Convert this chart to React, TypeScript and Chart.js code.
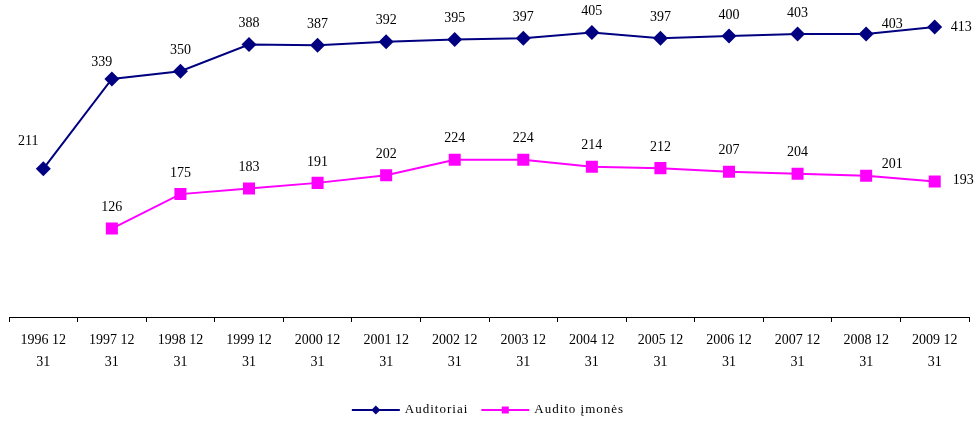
import React, { useEffect, useRef } from "react";
import { Chart, registerables } from "chart.js";

Chart.register(...registerables);

const categories: string[][] = [
  ["1996 12", "31"], ["1997 12", "31"], ["1998 12", "31"], ["1999 12", "31"],
  ["2000 12", "31"], ["2001 12", "31"], ["2002 12", "31"], ["2003 12", "31"],
  ["2004 12", "31"], ["2005 12", "31"], ["2006 12", "31"], ["2007 12", "31"],
  ["2008 12", "31"], ["2009 12", "31"],
];

const auditoriai: (number | null)[] = [211, 339, 350, 388, 387, 392, 395, 397, 405, 397, 400, 403, 403, 413];
const auditoImones: (number | null)[] = [null, 126, 175, 183, 191, 202, 224, 224, 214, 212, 207, 204, 201, 193];

const seriesNames = ["Auditoriai", "Audito įmonės"];
const NAVY = "#000080";
const MAGENTA = "#FF00FF";
const SERIF = "'Liberation Serif', 'Times New Roman', serif";

// label placement styles: [dx, dy, align]
type Off = [number, number, CanvasTextAlign];
const labelOffsetsA: Record<number, Off> = {
  0: [-15, -28, "center"],
  1: [-10, -17, "center"],
  12: [26, -10, "center"],
  13: [16, 0, "left"],
};
const labelOffsetsB: Record<number, Off> = {
  12: [26, -12, "center"],
  13: [18, -1, "left"],
};
const defaultOff: Off = [0, -21, "center"];

const dataLabelPlugin = {
  id: "dataLabels",
  afterDatasetsDraw(chart: any) {
    const ctx = chart.ctx;
    ctx.save();
    ctx.font = `14px ${SERIF}`;
    ctx.fillStyle = "#000";
    ctx.textBaseline = "middle";
    chart.data.datasets.forEach((ds: any, di: number) => {
      const meta = chart.getDatasetMeta(di);
      const offs = di === 0 ? labelOffsetsA : labelOffsetsB;
      meta.data.forEach((pt: any, i: number) => {
        const v = ds.data[i];
        if (v === null || v === undefined) return;
        const o = offs[i] || defaultOff;
        ctx.textAlign = o[2];
        ctx.fillText(String(v), pt.x + o[0], pt.y + o[1]);
      });
    });
    ctx.restore();
  },
};

const customLegendPlugin = {
  id: "customLegend",
  afterDraw(chart: any) {
    const ctx = chart.ctx;
    ctx.save();
    ctx.font = `13px ${SERIF}`;
    (ctx as any).letterSpacing = "1px";
    ctx.textBaseline = "middle";
    ctx.textAlign = "left";
    const lineLen = 48;
    const gapText = 5;
    const gapItem = 13;
    const widths = seriesNames.map((n) => ctx.measureText(n).width);
    const total = widths.reduce((s, w) => s + lineLen + gapText + w, 0) + gapItem;
    let x = chart.width / 2 - total / 2;
    const y = 410;
    const colors = [NAVY, MAGENTA];
    seriesNames.forEach((name, i) => {
      ctx.strokeStyle = colors[i];
      ctx.lineWidth = 2;
      ctx.beginPath();
      ctx.moveTo(x, y);
      ctx.lineTo(x + lineLen, y);
      ctx.stroke();
      ctx.fillStyle = colors[i];
      const cx = x + lineLen / 2;
      ctx.beginPath();
      if (i === 0) {
        ctx.moveTo(cx, y - 4.5);
        ctx.lineTo(cx + 4.5, y);
        ctx.lineTo(cx, y + 4.5);
        ctx.lineTo(cx - 4.5, y);
        ctx.closePath();
      } else {
        ctx.rect(cx - 3.5, y - 3.5, 7, 7);
      }
      ctx.fill();
      ctx.fillStyle = "#000";
      ctx.fillText(name, x + lineLen + gapText, y);
      x += lineLen + gapText + widths[i] + gapItem;
    });
    ctx.restore();
  },
};

export default function App() {
  const ref = useRef<HTMLCanvasElement | null>(null);
  useEffect(() => {
    if (!ref.current) return;
    const chart = new Chart(ref.current, {
      type: "line",
      data: {
        labels: categories,
        datasets: [
          {
            label: seriesNames[0],
            data: auditoriai,
            borderColor: NAVY,
            backgroundColor: NAVY,
            borderWidth: 2,
            pointStyle: "rectRot",
            pointRadius: 7.5,
            pointBorderWidth: 0,
            pointHoverRadius: 7.5,
            tension: 0,
          },
          {
            label: seriesNames[1],
            data: auditoImones,
            borderColor: MAGENTA,
            backgroundColor: MAGENTA,
            borderWidth: 2,
            pointStyle: "rect",
            pointRadius: 8.5,
            pointBorderWidth: 0,
            pointHoverRadius: 8.5,
            tension: 0,
            spanGaps: false,
          },
        ],
      },
      options: {
        animation: false,
        responsive: true,
        maintainAspectRatio: false,
        layout: { autoPadding: false, padding: { left: 9, right: 7, top: 1, bottom: 41 } },
        plugins: {
          legend: { display: false },
          tooltip: { enabled: false },
        },
        scales: {
          y: { display: false, min: 0, max: 450 },
          x: {
            offset: true,
            grid: {
              offset: true,
              drawOnChartArea: false,
              drawTicks: true,
              tickLength: 5,
              color: "#000",
            },
            border: { color: "#000", width: 1 },
            ticks: {
              color: "#000",
              padding: 7,
              maxRotation: 0,
              autoSkip: false,
              font: { family: SERIF, size: 14, lineHeight: 1.5714 },
            },
          },
        },
      },
      plugins: [dataLabelPlugin, customLegendPlugin],
    });
    return () => chart.destroy();
  }, []);
  return (
    <div style={{ position: "fixed", left: 0, top: 0, width: 976, height: 421, background: "#fff" }}>
      <canvas ref={ref} />
    </div>
  );
}
